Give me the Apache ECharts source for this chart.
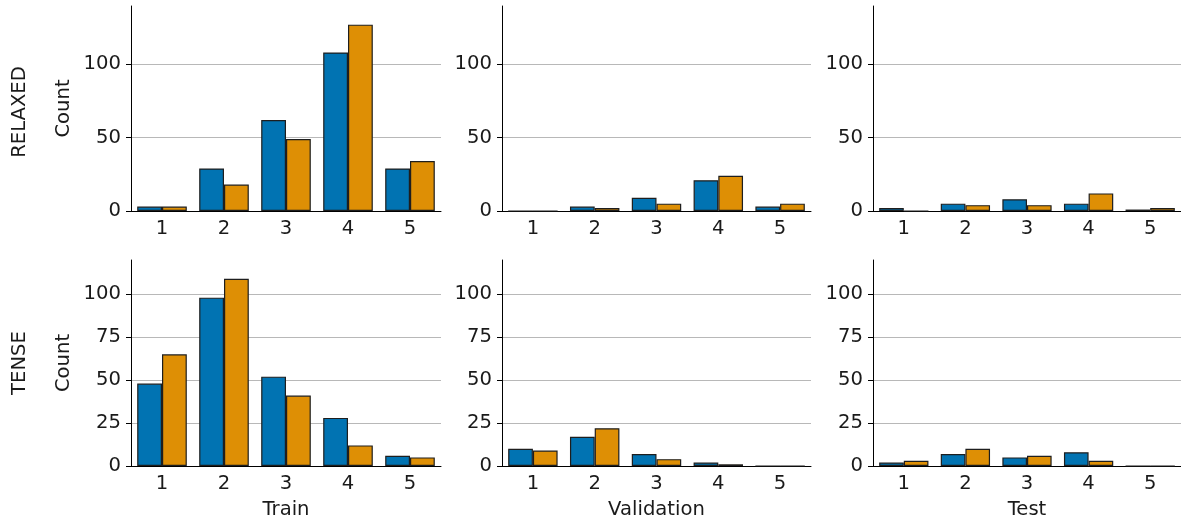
<!DOCTYPE html>
<html>
<head>
<meta charset="utf-8">
<script src="https://cdn.jsdelivr.net/npm/echarts@6/dist/echarts.min.js"></script>
<style>html,body{margin:0;padding:0;background:#fff}#c{width:1181px;height:522px}</style>
</head>
<body>
<div id="c"></div>
<script>
const categories = ['1', '2', '3', '4', '5'];
const relaxedTrainA = [3, 29, 62, 108, 29];
const relaxedTrainB = [3, 18, 49, 127, 34];
const relaxedValA = [0, 3, 9, 21, 3];
const relaxedValB = [0, 2, 5, 24, 5];
const relaxedTestA = [2, 5, 8, 5, 1];
const relaxedTestB = [0, 4, 4, 12, 2];
const tenseTrainA = [48, 98, 52, 28, 6];
const tenseTrainB = [65, 109, 41, 12, 5];
const tenseValA = [10, 17, 7, 2, 0];
const tenseValB = [9, 22, 4, 1, 0];
const tenseTestA = [2, 7, 5, 8, 0];
const tenseTestB = [3, 10, 6, 3, 0];
const topTicks = [0, 50, 100];
const bottomTicks = [0, 25, 50, 75, 100];
const topMax = 139.7;
const bottomMax = 119.9;
const colNames = ['Train', 'Validation', 'Test'];
const rowNames = ['RELAXED', 'TENSE'];

const FONT = 'DejaVu Sans';
const FS = 19.6;
const TXT = '#1a1a1a';
const colLeft = [131, 502, 873];
const colWidth = [310, 309, 308];
const rowTop = [6, 260];
const rowHeight = [205, 206];

const panels = [
  [relaxedTrainA, relaxedTrainB, 0, 0],
  [relaxedValA, relaxedValB, 0, 1],
  [relaxedTestA, relaxedTestB, 0, 2],
  [tenseTrainA, tenseTrainB, 1, 0],
  [tenseValA, tenseValB, 1, 1],
  [tenseTestA, tenseTestB, 1, 2]
];

const grids = [], xAxes = [], yAxes = [], series = [];
panels.forEach((p, i) => {
  const [a, b, r, c] = p;
  grids.push({left: colLeft[c], top: rowTop[r], width: colWidth[c], height: rowHeight[r]});
  xAxes.push({
    type: 'category', gridIndex: i, data: categories,
    name: r === 1 ? colNames[c] : '',
    nameLocation: 'middle', nameGap: 34,
    nameTextStyle: {fontFamily: FONT, fontSize: FS, color: TXT},
    axisLine: {lineStyle: {color: '#000', width: 1}},
    axisTick: {alignWithLabel: true, length: 5, lineStyle: {color: '#000'}},
    axisLabel: {fontFamily: FONT, fontSize: FS, color: TXT, margin: 8},
    splitLine: {show: false}
  });
  const ticks = r === 0 ? topTicks : bottomTicks;
  const step = ticks[1] - ticks[0];
  yAxes.push({
    type: 'value', gridIndex: i, min: 0, max: r === 0 ? topMax : bottomMax,
    interval: step,
    name: c === 0 ? 'Count' : '',
    nameLocation: 'middle', nameGap: 57, nameRotate: 90,
    nameTextStyle: {fontFamily: FONT, fontSize: FS, color: TXT},
    axisLine: {show: true, lineStyle: {color: '#000', width: 1}},
    axisTick: {show: true, length: 5, lineStyle: {color: '#000'}, customValues: ticks},
    axisLabel: {
      fontFamily: FONT, fontSize: FS, color: TXT, margin: 10,
      customValues: ticks,
      formatter: v => (ticks.indexOf(v) >= 0 ? String(v) : '')
    },
    splitLine: {show: true, showMinLine: false, lineStyle: {color: '#b8b8b8', width: 1}}
  });
  [[a, '#0173b2'], [b, '#de8f05']].forEach(([d, col]) => {
    series.push({
      type: 'bar', xAxisIndex: i, yAxisIndex: i, data: d,
      barGap: '0%', barCategoryGap: '20%',
      itemStyle: {color: col, borderColor: '#1e1e1e', borderWidth: 1.2},
      emphasis: {disabled: true}, silent: true, z: 3
    });
  });
});

const graphic = rowNames.map((t, r) => ({
  type: 'text', x: 20, y: r === 0 ? 112 : 363, rotation: Math.PI / 2,
  style: {text: t, fontFamily: FONT, fontSize: FS, fill: TXT, textAlign: 'center', textVerticalAlign: 'middle'}
}));

const chart = echarts.init(document.getElementById('c'), null, {renderer: 'canvas'});
chart.setOption({
  animation: false,
  backgroundColor: '#fff',
  grid: grids, xAxis: xAxes, yAxis: yAxes, series: series,
  graphic: graphic
});
</script>
</body>
</html>
